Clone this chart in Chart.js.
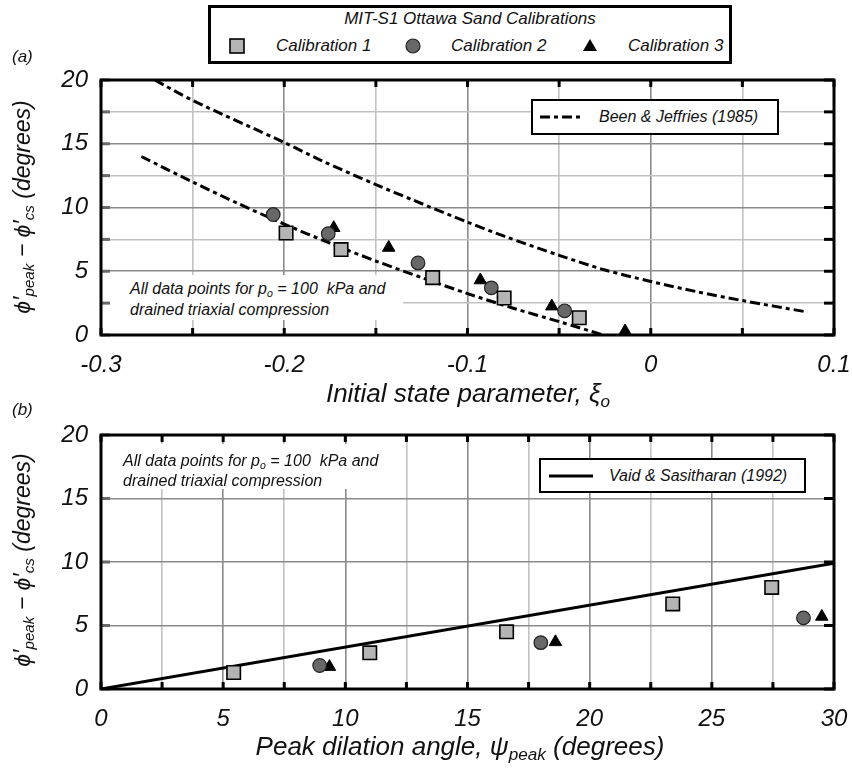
<!DOCTYPE html>
<html lang="en">
<head>
  <meta charset="UTF-8" />
  <title>MIT-S1 Ottawa Sand Calibrations</title>
  <script src="https://cdn.jsdelivr.net/npm/chart.js"></script>
  <style>
    body { margin: 0; background: #fff; }
    #wrap {
      position: relative; width: 852px; height: 771px; overflow: hidden;
      font-family: 'Liberation Sans', Arial, sans-serif; font-style: italic; color: #111;
    }
    canvas { position: absolute; left: 0; }
    #chartA { top: 0; }
    #chartB { top: 400px; }
    .lbl { position: absolute; white-space: nowrap; }
    .ytitle { font-size: 23px; transform: translate(-50%, -50%) rotate(-90deg); }
    .xtitle { font-size: 26px; transform: translate(-50%, -50%); }
    .box { position: absolute; box-sizing: border-box; background: #fff; }
    .note { font-size: 16px; line-height: 21px; }
    sub { font-size: 0.66em; vertical-align: -0.3em; line-height: 0; }
    svg { position: absolute; left: 0; top: 0; }
  </style>
</head>
<body>
<div id="wrap">
  <canvas id="chartA" width="852" height="400"></canvas>
  <canvas id="chartB" width="852" height="371"></canvas>

  <!-- top legend -->
  <div class="box" style="left:208px;top:5px;width:524px;height:59px;border:3px solid #000;"></div>
  <div class="lbl" style="left:470px;top:19px;transform:translate(-50%,-50%);font-size:17px;">MIT-S1 Ottawa Sand Calibrations</div>
  <div class="lbl" style="left:276px;top:46px;transform:translateY(-50%);font-size:17px;">Calibration 1</div>
  <div class="lbl" style="left:451px;top:46px;transform:translateY(-50%);font-size:17px;">Calibration 2</div>
  <div class="lbl" style="left:628px;top:46px;transform:translateY(-50%);font-size:17px;">Calibration 3</div>

  <div class="lbl" style="left:12px;top:57px;transform:translateY(-50%);font-size:17px;">(a)</div>
  <div class="lbl" style="left:12px;top:410px;transform:translateY(-50%);font-size:17px;">(b)</div>

  <!-- axis titles -->
  <div class="lbl ytitle" style="left:22px;top:207px;">ϕ′<sub>peak</sub> − ϕ′<sub>cs</sub> (degrees)</div>
  <div class="lbl ytitle" style="left:22px;top:560px;">ϕ′<sub>peak</sub> − ϕ′<sub>cs</sub> (degrees)</div>
  <div class="lbl xtitle" style="left:468px;top:393px;">Initial state parameter, ξ<sub>o</sub></div>
  <div class="lbl xtitle" style="left:460px;top:746px;">Peak dilation angle, ψ<sub>peak</sub> (degrees)</div>

  <!-- notes -->
  <div class="box" style="left:110px;top:275px;width:293px;height:45px;"></div>
  <div class="lbl note" style="left:130px;top:278px;">All data points for p<sub>o</sub> = 100&nbsp; kPa and<br>drained triaxial compression</div>
  <div class="box" style="left:110px;top:444px;width:287px;height:45px;"></div>
  <div class="lbl note" style="left:123px;top:451px;line-height:20px;">All data points for p<sub>o</sub> = 100&nbsp; kPa and<br>drained triaxial compression</div>

  <!-- inner legends -->
  <div class="box" style="left:531px;top:99px;width:248px;height:36px;border:2.5px solid #000;"></div>
  <div class="lbl" style="left:599px;top:117px;transform:translateY(-50%);font-size:16px;">Been &amp; Jeffries (1985)</div>
  <div class="box" style="left:539px;top:458px;width:267px;height:35px;border:2.5px solid #000;"></div>
  <div class="lbl" style="left:609px;top:476px;transform:translateY(-50%);font-size:16px;">Vaid &amp; Sasitharan (1992)</div>

  <svg width="852" height="771">
    <rect x="230" y="39" width="14" height="14" fill="#b4b4b4" stroke="#000" stroke-width="1.6"/>
    <circle cx="413" cy="46" r="7" fill="#686868" stroke="#222" stroke-width="1.2"/>
    <polygon points="590,39 597,51 583,51" fill="#000"/>
    <line x1="540" y1="117" x2="583" y2="117" stroke="#000" stroke-width="3" stroke-dasharray="10 4 4 4"/>
    <line x1="549" y1="476" x2="593" y2="476" stroke="#000" stroke-width="3"/>
  </svg>
</div>

<script>
  // ---- (a) friction angle excess vs initial state parameter ----
  const cal1XiA  = [-0.199, -0.169, -0.119, -0.080, -0.039];
  const cal1PhiA = [8.0, 6.7, 4.5, 2.9, 1.35];
  const cal2XiA  = [-0.206, -0.176, -0.127, -0.087, -0.047];
  const cal2PhiA = [9.45, 7.95, 5.65, 3.7, 1.9];
  const cal3XiA  = [-0.173, -0.143, -0.093, -0.054, -0.014];
  const cal3PhiA = [8.4, 6.85, 4.3, 2.25, 0.3];

  // Been & Jeffries (1985) bounds
  const bjLowXi  = [-0.278, -0.25, -0.225, -0.2, -0.175, -0.15, -0.125, -0.1, -0.075, -0.05, -0.026];
  const bjLowPhi = [14.0, 12.0, 10.3, 8.7, 7.2, 5.8, 4.5, 3.25, 2.1, 1.05, 0];
  const bjUpXi   = [-0.2706, -0.25, -0.2, -0.18, -0.15, -0.13, -0.1, -0.08, -0.05, -0.025, 0, 0.025, 0.05, 0.0855];
  const bjUpPhi  = [20, 18.4, 15.1, 13.7, 11.8, 10.6, 8.85, 7.75, 6.25, 5.1, 4.2, 3.4, 2.7, 1.8];

  // ---- (b) friction angle excess vs peak dilation angle ----
  const cal1PsiB = [5.43, 11.0, 16.6, 23.4, 27.45];
  const cal1PhiB = [1.3, 2.85, 4.5, 6.7, 8.0];
  const cal2PsiB = [8.95, 18.0, 28.75];
  const cal2PhiB = [1.85, 3.65, 5.6];
  const cal3PsiB = [9.35, 18.6, 29.5];
  const cal3PhiB = [1.75, 3.7, 5.7];

  // Vaid & Sasitharan (1992)
  const vsPsi = [0, 30];
  const vsPhi = [0, 9.9];

  const xLabelsA = [-0.3, -0.2, -0.1, 0, 0.1];
  const xLabelsB = [0, 5, 10, 15, 20, 25, 30];
  const yLabels  = [0, 5, 10, 15, 20];

  const pts = (xs, ys) => xs.map((x, i) => ({ x: x, y: ys[i] }));
  const tickFont = { family: "'Liberation Sans', Arial, sans-serif", size: 24, style: 'italic' };

  const markerSets = (x1, y1, x2, y2, x3, y3) => [
    { label: 'Calibration 1', data: pts(x1, y1), pointStyle: 'rect', pointRadius: 9.5,
      backgroundColor: '#b4b4b4', borderColor: '#000', borderWidth: 1.6, order: 1, clip: false },
    { label: 'Calibration 2', data: pts(x2, y2), pointStyle: 'circle', pointRadius: 6.8,
      backgroundColor: '#686868', borderColor: '#222', borderWidth: 1.2, order: 1, clip: false },
    { label: 'Calibration 3', data: pts(x3, y3), pointStyle: 'triangle', pointRadius: 7.2,
      backgroundColor: '#000', borderColor: '#000', borderWidth: 1, order: 1, clip: false }
  ];

  // box round the plot and the short ticks on its inner side
  const frameTicks = {
    id: 'frameTicks',
    beforeDatasetsDraw(chart) {
      const { ctx, chartArea: a, scales: { x, y } } = chart;
      ctx.save();
      ctx.lineWidth = 3;
      ctx.strokeStyle = '#000';
      x.ticks.forEach(t => {
        const px = x.getPixelForValue(t.value);
        ctx.beginPath();
        ctx.moveTo(px, a.top); ctx.lineTo(px, a.top + 7);
        ctx.moveTo(px, a.bottom); ctx.lineTo(px, a.bottom - 7);
        ctx.stroke();
      });
      y.ticks.forEach(t => {
        const py = y.getPixelForValue(t.value);
        ctx.strokeStyle = '#000';
        ctx.beginPath(); ctx.moveTo(a.right, py); ctx.lineTo(a.right - 10, py); ctx.stroke();
        ctx.strokeStyle = '#6a6a6a';
        ctx.beginPath(); ctx.moveTo(a.left, py); ctx.lineTo(a.left + 9, py); ctx.stroke();
      });
      ctx.strokeStyle = '#000';
      ctx.strokeRect(a.left, a.top, a.right - a.left, a.bottom - a.top);
      ctx.restore();
    }
  };

  function gridColor(step) {
    return c => (Math.round(c.tick.value / step) % 2 === 0 ? '#8a8a8a' : '#c2c2c2');
  }

  function makeChart(id, datasets, xMin, xMax, xStep, xLabels, padTop, xHeight) {
    return new Chart(document.getElementById(id), {
      type: 'scatter',
      data: { datasets: datasets },
      options: {
        responsive: false,
        animation: false,
        layout: { padding: { top: padTop, right: 18, left: 0, bottom: 0 }, autoPadding: false },
        plugins: { legend: { display: false }, tooltip: { enabled: false } },
        scales: {
          x: {
            type: 'linear', min: xMin, max: xMax,
            border: { display: false },
            grid: { color: gridColor(xStep), lineWidth: 1.6, drawTicks: false },
            ticks: {
              stepSize: xStep, autoSkip: false, maxRotation: 0, padding: 16,
              color: '#111', font: tickFont,
              callback: v => {
                const hit = xLabels.find(l => Math.abs(l - v) < xStep / 10);
                return hit === undefined ? '' : String(hit);
              }
            },
            afterFit: s => { s.height = xHeight; s.paddingLeft = 0; s.paddingRight = 0; }
          },
          y: {
            min: 0, max: 20,
            border: { display: false },
            grid: { color: gridColor(2.5), lineWidth: 1.6, drawTicks: false },
            ticks: {
              stepSize: 2.5, padding: 13, color: '#111', font: tickFont,
              callback: v => (yLabels.includes(v) ? String(v) : '')
            },
            afterFit: s => { s.width = 101; s.paddingTop = 0; s.paddingBottom = 0; }
          }
        }
      },
      plugins: [frameTicks]
    });
  }

  makeChart('chartA', [
    ...markerSets(cal1XiA, cal1PhiA, cal2XiA, cal2PhiA, cal3XiA, cal3PhiA),
    { label: 'Been & Jeffries (1985)', data: pts(bjLowXi, bjLowPhi), showLine: true, pointRadius: 0,
      borderColor: '#000', borderWidth: 3, borderDash: [10, 4, 4, 4], tension: 0.3, order: 5 },
    { label: 'Been & Jeffries (1985) upper', data: pts(bjUpXi, bjUpPhi), showLine: true, pointRadius: 0,
      borderColor: '#000', borderWidth: 3, borderDash: [10, 4, 4, 4], tension: 0.3, order: 5 }
  ], -0.3, 0.1, 0.05, xLabelsA, 80, 65);

  makeChart('chartB', [
    ...markerSets(cal1PsiB, cal1PhiB, cal2PsiB, cal2PhiB, cal3PsiB, cal3PhiB),
    { label: 'Vaid & Sasitharan (1992)', data: pts(vsPsi, vsPhi), showLine: true, pointRadius: 0,
      borderColor: '#000', borderWidth: 3, order: 5 }
  ], 0, 30, 2.5, xLabelsB, 35, 82);
</script>
</body>
</html>
